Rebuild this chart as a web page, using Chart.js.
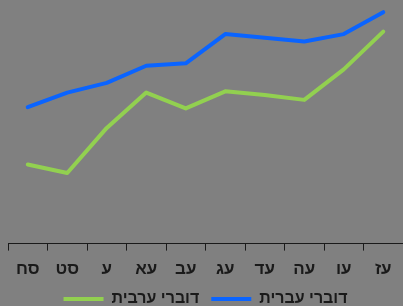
<!DOCTYPE html>
<html><head><meta charset="utf-8">
<script src="https://cdn.jsdelivr.net/npm/chart.js@4/dist/chart.umd.min.js"></script>
<style>html,body{margin:0;padding:0;background:#808080;}#wrap{width:403px;height:306px;}</style>
</head><body><div id="wrap"><canvas id="c" width="403" height="306"></canvas></div>
<script>
const categories = ["סח","סט","ע","עא","עב","עג","עד","עה","עו","עז"];
const hebrewSpeakers = [56, 62, 66, 73, 74, 86, 84.5, 83, 86, 95];
const arabicSpeakers = [32.5, 29, 47.5, 62, 55.5, 62.5, 61, 59, 71.5, 87];
const seriesNames = ["דוברי עברית", "דוברי ערבית"];

new Chart(document.getElementById('c'), {
  type: 'line',
  data: {
    labels: categories,
    datasets: [
      {label: seriesNames[0], data: hebrewSpeakers, borderColor: '#0a64ff', backgroundColor: '#0a64ff', borderWidth: 4, pointRadius: 0, tension: 0, borderCapStyle: 'round', borderJoinStyle: 'round', pointStyle: 'line'},
      {label: seriesNames[1], data: arabicSpeakers, borderColor: '#92d050', backgroundColor: '#92d050', borderWidth: 4, pointRadius: 0, tension: 0, borderCapStyle: 'round', borderJoinStyle: 'round', pointStyle: 'line'}
    ]
  },
  options: {
    responsive: false,
    animation: false,
    layout: {padding: {left: 8, right: 0, top: 0, bottom: -11}},
    plugins: {
      legend: {
        position: 'bottom',
        reverse: true,
        labels: {usePointStyle: true, pointStyleWidth: 40, boxWidth: 40, padding: 12, color: '#1a1a1a', font: {family: 'Liberation Sans', size: 16, weight: 'bold'}}
      },
      tooltip: {enabled: false}
    },
    scales: {
      x: {
        offset: true,
        afterFit: function(scale) { scale.height = scale.height - 10; },
        grid: {display: true, offset: true, drawOnChartArea: false, tickLength: 7, color: '#1a1a1a', lineWidth: 1},
        border: {display: true, color: '#1a1a1a', width: 1},
        ticks: {color: '#1a1a1a', padding: 9, maxRotation: 0, autoSkip: false, font: {family: 'Liberation Sans', size: 17, weight: 'bold'}}
      },
      y: {display: false, min: 0, max: 100}
    }
  }
});
</script></body></html>
